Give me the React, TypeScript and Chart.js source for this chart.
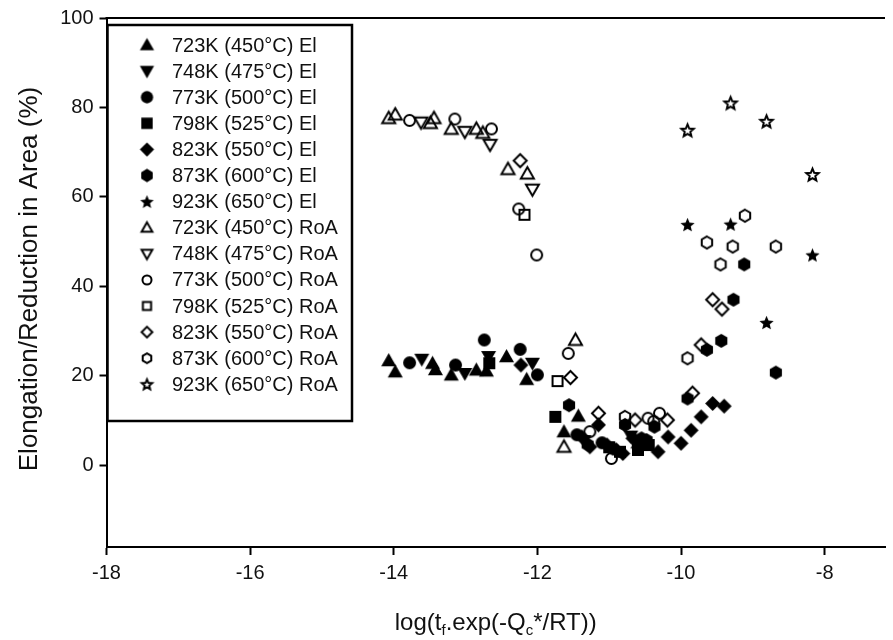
import React, { useEffect, useRef } from "react";
import { Chart, registerables } from "chart.js";
Chart.register(...registerables);

// ---------- data ----------
const xTickValues = [-18, -16, -14, -12, -10, -8];
const yTickValues = [0, 20, 40, 60, 80, 100];

const seriesLabels = [
  "723K (450°C) El",
  "748K (475°C) El",
  "773K (500°C) El",
  "798K (525°C) El",
  "823K (550°C) El",
  "873K (600°C) El",
  "923K (650°C) El",
  "723K (450°C) RoA",
  "748K (475°C) RoA",
  "773K (500°C) RoA",
  "798K (525°C) RoA",
  "823K (550°C) RoA",
  "873K (600°C) RoA",
  "923K (650°C) RoA",
];

const el723: number[][] = [
  [-14.07, 23.4], [-13.98, 20.9], [-13.46, 22.8], [-13.42, 21.4], [-13.2, 20.2],
  [-12.85, 21.3], [-12.71, 21.1], [-12.43, 24.3], [-12.15, 19.2], [-11.63, 7.5],
  [-11.43, 11.0], [-10.6, 5.0],
];
const el748: number[][] = [
  [-13.61, 23.7], [-13.01, 20.5], [-12.68, 24.3], [-12.07, 22.8], [-11.35, 5.5], [-10.7, 6.5],
];
const el773: number[][] = [
  [-13.78, 22.9], [-13.14, 22.4], [-12.74, 28.0], [-12.24, 25.9], [-12.0, 20.2],
  [-11.45, 6.8], [-11.1, 5.0],
];
const el798: number[][] = [
  [-12.67, 22.8], [-11.75, 10.8], [-11.0, 4.0], [-10.85, 3.0], [-10.6, 3.4], [-10.45, 4.5],
];
const el823: number[][] = [
  [-12.23, 22.4], [-11.38, 6.3], [-11.27, 4.1], [-11.15, 9.0], [-11.03, 4.5], [-10.9, 3.4],
  [-10.81, 2.6], [-10.67, 6.0], [-10.32, 3.0], [-10.18, 6.3], [-10.0, 4.9], [-9.86, 7.8],
  [-9.72, 10.8], [-9.56, 13.8], [-9.4, 13.2],
];
const el873: number[][] = [
  [-11.56, 13.4], [-11.3, 4.6], [-10.95, 3.7], [-10.78, 9.0], [-10.55, 6.0], [-10.48, 5.6],
  [-10.37, 8.6], [-9.91, 14.9], [-9.64, 25.8], [-9.44, 27.8], [-9.27, 37.0], [-9.12, 44.9],
  [-8.68, 20.7],
];
const el923: number[][] = [
  [-9.91, 53.8], [-9.31, 53.9], [-8.81, 31.9], [-8.17, 47.0],
];
const roa723: number[][] = [
  [-14.07, 77.6], [-13.98, 78.4], [-13.49, 76.5], [-13.44, 77.6], [-13.2, 75.2],
  [-12.85, 75.2], [-12.76, 74.3], [-12.41, 66.2], [-12.14, 65.2], [-11.47, 28.0], [-11.63, 4.1],
];
const roa748: number[][] = [
  [-13.62, 76.7], [-13.01, 74.6], [-12.66, 71.7], [-12.07, 61.7],
];
const roa773: number[][] = [
  [-13.78, 77.1], [-13.15, 77.4], [-12.64, 75.2], [-12.26, 57.3], [-12.01, 47.0],
  [-11.57, 25.0], [-11.27, 7.5], [-10.97, 1.5], [-10.46, 10.5], [-10.3, 11.6], [-10.38, 9.8],
];
const roa798: number[][] = [
  [-12.18, 56.0], [-11.72, 18.8],
];
const roa823: number[][] = [
  [-12.24, 68.1], [-11.54, 19.6], [-11.15, 11.6], [-10.64, 10.1], [-10.19, 10.1],
  [-9.84, 16.1], [-9.72, 26.9], [-9.56, 37.0], [-9.43, 34.9],
];
const roa873: number[][] = [
  [-10.78, 10.8], [-9.91, 23.9], [-9.64, 49.8], [-9.45, 44.9], [-9.28, 48.9], [-9.11, 55.8], [-8.68, 48.9],
];
const roa923: number[][] = [
  [-9.91, 74.9], [-9.31, 81.0], [-8.81, 76.9], [-8.17, 65.0],
];

const seriesData = [el723, el748, el773, el798, el823, el873, el923, roa723, roa748, roa773, roa798, roa823, roa873, roa923];
const seriesShapes = ["triUp", "triDown", "circle", "square", "diamond", "hexagon", "star", "triUp", "triDown", "circle", "square", "diamond", "hexagon", "star"];
const seriesFilled = [true, true, true, true, true, true, true, false, false, false, false, false, false, false];

// ---------- markers ----------
function makeMarker(shape: string, filled: boolean, scale: number): HTMLCanvasElement {
  const base: Record<string, number> = { triUp: 15, triDown: 15, circle: 13, square: 12, diamond: 15, hexagon: 14, star: 15 };
  const size = base[shape] * scale;
  const pad = 3;
  const d = Math.ceil(size + pad * 2);
  const c = document.createElement("canvas");
  c.width = d;
  c.height = d;
  const ctx = c.getContext("2d")!;
  const cx = d / 2, cy = d / 2;
  const r = filled ? size / 2 : size / 2 - 1;
  ctx.beginPath();
  if (shape === "triUp") {
    ctx.moveTo(cx, cy - r);
    ctx.lineTo(cx + r, cy + r * 0.75);
    ctx.lineTo(cx - r, cy + r * 0.75);
    ctx.closePath();
  } else if (shape === "triDown") {
    ctx.moveTo(cx, cy + r);
    ctx.lineTo(cx + r, cy - r * 0.75);
    ctx.lineTo(cx - r, cy - r * 0.75);
    ctx.closePath();
  } else if (shape === "circle") {
    ctx.arc(cx, cy, r, 0, Math.PI * 2);
  } else if (shape === "square") {
    ctx.rect(cx - r, cy - r, 2 * r, 2 * r);
  } else if (shape === "diamond") {
    ctx.moveTo(cx, cy - r);
    ctx.lineTo(cx + r, cy);
    ctx.lineTo(cx, cy + r);
    ctx.lineTo(cx - r, cy);
    ctx.closePath();
  } else if (shape === "hexagon") {
    for (let i = 0; i < 6; i++) {
      const a = -Math.PI / 2 + (i * Math.PI) / 3;
      const px = cx + r * Math.cos(a);
      const py = cy + r * Math.sin(a);
      if (i === 0) ctx.moveTo(px, py);
      else ctx.lineTo(px, py);
    }
    ctx.closePath();
  } else if (shape === "star") {
    const ri = r * 0.45;
    for (let i = 0; i < 10; i++) {
      const a = -Math.PI / 2 + (i * Math.PI) / 5;
      const rr = i % 2 === 0 ? r : ri;
      const px = cx + rr * Math.cos(a);
      const py = cy + rr * Math.sin(a) + r * 0.1;
      if (i === 0) ctx.moveTo(px, py);
      else ctx.lineTo(px, py);
    }
    ctx.closePath();
  }
  if (filled) {
    ctx.fillStyle = "#000";
    ctx.fill();
  } else {
    ctx.lineWidth = 2;
    ctx.lineJoin = "miter";
    ctx.strokeStyle = "#000";
    ctx.stroke();
  }
  return c;
}

const FONT = "'Liberation Sans', Arial, sans-serif";

export default function App() {
  const ref = useRef<HTMLCanvasElement | null>(null);

  useEffect(() => {
    const canvas = ref.current;
    if (!canvas) return;
    const plotMarkers = seriesShapes.map((s, i) => makeMarker(s, seriesFilled[i], 1));
    const legendMarkers = seriesShapes.map((s, i) => makeMarker(s, seriesFilled[i], seriesFilled[i] ? 0.95 : 0.85));

    const datasets = seriesData.map((arr, i) => ({
      label: seriesLabels[i],
      data: arr.map((p) => ({ x: p[0], y: p[1] })),
      pointStyle: plotMarkers[i] as any,
      showLine: false,
      borderColor: "#000",
      backgroundColor: "#000",
    }));

    const framePlugin = {
      id: "frame",
      afterDraw(chart: any) {
        const { ctx, chartArea } = chart;
        ctx.save();
        // top frame line
        ctx.strokeStyle = "#000";
        ctx.lineWidth = 2;
        ctx.beginPath();
        ctx.moveTo(chartArea.left - 1, chartArea.top);
        ctx.lineTo(chartArea.right, chartArea.top);
        ctx.stroke();

        // legend box
        const bx = chartArea.left + 1, by = 25, bw = 352 - bx, bh = 421 - by;
        ctx.fillStyle = "#fff";
        ctx.fillRect(bx, by, bw, bh);
        ctx.lineWidth = 2.5;
        ctx.strokeRect(bx, by, bw, bh);
        ctx.fillStyle = "#111";
        ctx.font = `20px ${FONT}`;
        ctx.textBaseline = "middle";
        ctx.textAlign = "left";
        seriesLabels.forEach((lab, i) => {
          const yy = 45 + i * 26.1;
          const m = legendMarkers[i];
          ctx.drawImage(m, 147 - m.width / 2, yy - m.height / 2);
          ctx.fillText(lab, 172, yy + 1);
        });

        // x title with subscripts
        const parts: [string, boolean][] = [["log(t", false], ["f", true], [".exp(-Q", false], ["c", true], ["*/RT))", false]];
        const big = `24px ${FONT}`, small = `15px ${FONT}`;
        let total = 0;
        parts.forEach(([t, sub]) => {
          ctx.font = sub ? small : big;
          total += ctx.measureText(t).width;
        });
        let xx = (chartArea.left + chartArea.right) / 2 - total / 2;
        const base = 630;
        ctx.textBaseline = "alphabetic";
        ctx.fillStyle = "#111";
        parts.forEach(([t, sub]) => {
          ctx.font = sub ? small : big;
          ctx.fillText(t, xx, sub ? base + 5 : base);
          xx += ctx.measureText(t).width;
        });

        // y title
        ctx.translate(30, 279);
        ctx.rotate(-Math.PI / 2);
        ctx.font = `26px ${FONT}`;
        ctx.textAlign = "center";
        ctx.textBaseline = "middle";
        ctx.fillText("Elongation/Reduction in Area (%)", 0, 0);
        ctx.restore();
      },
    };

    const chart = new Chart(canvas, {
      type: "scatter",
      data: { datasets },
      options: {
        animation: false,
        responsive: false,
        maintainAspectRatio: false,
        layout: { padding: { top: 18, right: 0, left: 0, bottom: 0 } },
        plugins: { legend: { display: false }, tooltip: { enabled: false } },
        elements: { point: { radius: 7 } },
        scales: {
          x: {
            type: "linear",
            min: -18,
            max: -7.16,
            afterBuildTicks: (s: any) => {
              s.ticks = xTickValues.map((v) => ({ value: v }));
            },
            afterFit: (s: any) => {
              s.height = 93;
            },
            grid: { drawOnChartArea: false, drawTicks: true, tickLength: 8, tickColor: "#000", tickWidth: 2, color: "#000" },
            border: { display: true, color: "#000", width: 2 },
            ticks: { color: "#111", font: { family: FONT, size: 20 }, padding: 6, maxRotation: 0, autoSkip: false },
          },
          y: {
            type: "linear",
            min: -18.3,
            max: 100,
            afterBuildTicks: (s: any) => {
              s.ticks = yTickValues.map((v) => ({ value: v }));
            },
            afterFit: (s: any) => {
              s.width = 106.5;
            },
            grid: { drawOnChartArea: false, drawTicks: true, tickLength: 7, tickColor: "#000", tickWidth: 2, color: "#000" },
            border: { display: true, color: "#000", width: 2 },
            ticks: { color: "#111", font: { family: FONT, size: 20 }, padding: 6, autoSkip: false },
          },
        },
      },
      plugins: [framePlugin],
    });
    return () => chart.destroy();
  }, []);

  return (
    <div style={{ position: "fixed", left: 0, top: 0, width: 893, height: 640, background: "#fff" }}>
      <canvas ref={ref} width={893} height={640} style={{ width: 893, height: 640, display: "block" }} />
    </div>
  );
}
